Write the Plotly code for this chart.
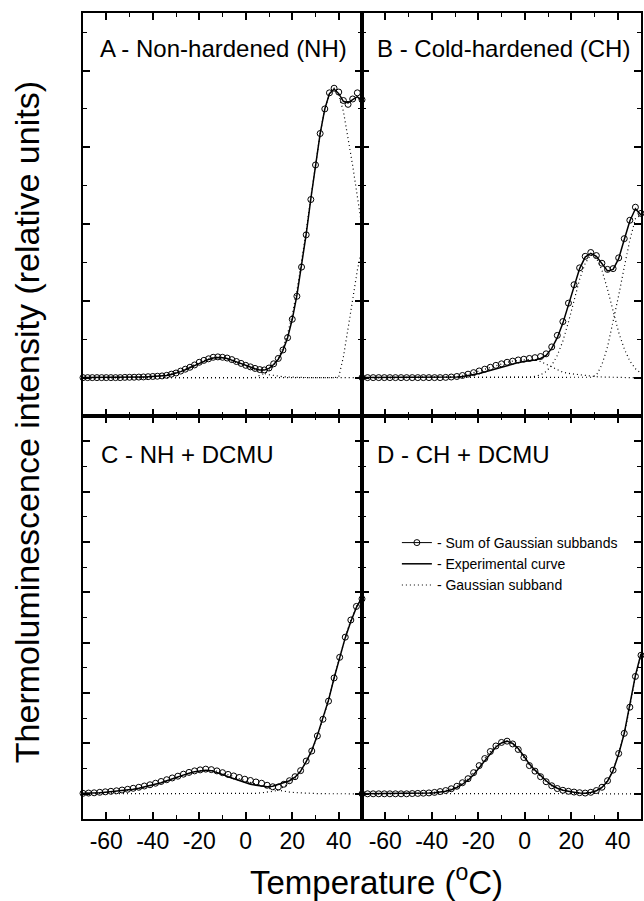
import plotly.graph_objects as go

# ---------------- data ----------------
T_A = [-70, -68, -66, -64, -62, -60, -58, -56, -54, -52, -50, -48, -46, -44, -42, -40,
       -38, -36, -34, -32, -30, -28, -26, -24, -22, -20, -18, -16, -14, -12, -10, -8,
       -6, -4, -2, 0, 2, 4, 6, 8, 10, 12, 14, 16, 18, 20, 22, 24, 26, 28, 30, 32, 34,
       36, 38, 40, 42, 44, 46, 48, 50]
T_2 = [-70.0, -67.6, -65.2, -62.8, -60.4, -58.0, -55.6, -53.2, -50.8, -48.4, -46.0,
       -43.6, -41.2, -38.8, -36.4, -34.0, -31.6, -29.2, -26.8, -24.4, -22.0, -19.6,
       -17.2, -14.8, -12.4, -10.0, -7.6, -5.2, -2.8, -0.4, 2.0, 4.4, 6.8, 9.2, 11.6,
       14.0, 16.4, 18.8, 21.2, 23.6, 26.0, 28.4, 30.8, 33.2, 35.6, 38.0, 40.4, 42.8,
       45.2, 47.6, 50.0]

# Panel A - Non-hardened
SUM_A = [0, 0, 0, 0, 0, 0, 0, 0, 0, 0.003, 0.004, 0.005, 0.007, 0.009, 0.012, 0.015,
         0.018, 0.022, 0.03, 0.045, 0.06, 0.085, 0.11, 0.135, 0.165, 0.2, 0.225, 0.245,
         0.265, 0.27, 0.265, 0.255, 0.235, 0.21, 0.185, 0.16, 0.14, 0.12, 0.105, 0.1,
         0.125, 0.18, 0.25, 0.36, 0.52, 0.76, 1.06, 1.44, 1.86, 2.32, 2.77, 3.18, 3.5,
         3.71, 3.77, 3.72, 3.61, 3.56, 3.63, 3.71, 3.62]
EXP_A = [0, 0, 0, 0, 0, 0, 0, 0, 0, 0.002, 0.003, 0.004, 0.006, 0.008, 0.01, 0.013,
         0.016, 0.02, 0.028, 0.04, 0.055, 0.078, 0.102, 0.128, 0.158, 0.19, 0.215, 0.237,
         0.255, 0.262, 0.258, 0.248, 0.228, 0.205, 0.18, 0.155, 0.135, 0.115, 0.1, 0.098,
         0.12, 0.17, 0.24, 0.355, 0.52, 0.76, 1.07, 1.45, 1.87, 2.33, 2.78, 3.18, 3.5,
         3.7, 3.76, 3.7, 3.6, 3.58, 3.62, 3.66, 3.6]
G_A1 = [0] * 13 + [0.005, 0.01, 0.015, 0.02, 0.028, 0.038, 0.052, 0.07, 0.09, 0.115,
                   0.14, 0.17, 0.195, 0.22, 0.24, 0.255, 0.26, 0.255, 0.24, 0.22, 0.195,
                   0.17, 0.145, 0.12, 0.095, 0.072, 0.053, 0.038, 0.026, 0.017, 0.011,
                   0.007, 0.004, 0.002] + [0] * 14
G_A2 = [0] * 38 + [0.03, 0.054, 0.09, 0.155, 0.25, 0.385, 0.57, 0.82, 1.13, 1.5, 1.91,
                   2.35, 2.79, 3.18, 3.5, 3.7, 3.77, 3.68, 3.47, 3.13, 2.76, 2.36, 1.96]
G_A3 = [0] * 55 + [0.01, 0.27, 0.64, 1.02, 1.4, 1.68]

# Panel B - Cold-hardened
SUM_B = [0] * 15 + [0.003, 0.008, 0.015, 0.028, 0.045, 0.065, 0.087, 0.11, 0.135, 0.16,
                    0.18, 0.2, 0.215, 0.23, 0.24, 0.25, 0.26, 0.275, 0.31, 0.40, 0.55,
                    0.73, 0.97, 1.21, 1.43, 1.58, 1.63, 1.59, 1.49, 1.41, 1.42, 1.56,
                    1.81, 2.05, 2.22, 2.14]
EXP_B = [0] * 16 + [0.003, 0.008, 0.015, 0.025, 0.04, 0.055, 0.075, 0.095, 0.115, 0.14,
                    0.16, 0.18, 0.195, 0.21, 0.22, 0.23, 0.25, 0.29, 0.38, 0.52, 0.71,
                    0.95, 1.2, 1.42, 1.57, 1.62, 1.58, 1.48, 1.39, 1.41, 1.55, 1.8, 2.04,
                    2.2, 2.12]
G_B1 = [0] * 15 + [0.003, 0.008, 0.015, 0.028, 0.045, 0.065, 0.087, 0.11, 0.135, 0.16,
                   0.18, 0.2, 0.215, 0.225, 0.232, 0.235, 0.23, 0.21, 0.175, 0.135, 0.095,
                   0.07, 0.055, 0.045, 0.035, 0.025, 0.018, 0.012, 0.008, 0.005,
                   0.003] + [0] * 5
G_B2 = [0] * 29 + [0.002, 0.006, 0.016, 0.037, 0.08, 0.16, 0.288, 0.477, 0.724, 1.0,
                   1.28, 1.49, 1.6, 1.56, 1.4, 1.15, 0.86, 0.59, 0.375, 0.216, 0.115, 0.056]
G_B3 = [0] * 41 + [0.005, 0.03, 0.17, 0.4, 0.72, 1.07, 1.44, 1.79, 2.07, 2.12]

# Panel C - NH + DCMU
SUM_C = [0.01, 0.015, 0.02, 0.03, 0.04, 0.05, 0.06, 0.075, 0.09, 0.11,
         0.13, 0.155, 0.18, 0.21, 0.245, 0.28, 0.315, 0.35, 0.39, 0.425,
         0.455, 0.475, 0.49, 0.48, 0.455, 0.42, 0.385, 0.355, 0.325, 0.29,
         0.265, 0.235, 0.21, 0.17, 0.14, 0.135, 0.19, 0.26, 0.34, 0.46,
         0.65, 0.85, 1.15, 1.48, 1.84, 2.3, 2.71, 3.11, 3.45, 3.72, 3.87]
EXP_C = [0.01, 0.01, 0.015, 0.02, 0.03, 0.04, 0.05, 0.06, 0.075, 0.09,
         0.11, 0.135, 0.16, 0.19, 0.22, 0.26, 0.3, 0.335, 0.375, 0.41,
         0.44, 0.46, 0.47, 0.46, 0.43, 0.385, 0.34, 0.3, 0.26, 0.22,
         0.19, 0.17, 0.15, 0.14, 0.15, 0.19, 0.22, 0.26, 0.33, 0.45,
         0.64, 0.86, 1.16, 1.5, 1.86, 2.3, 2.72, 3.1, 3.42, 3.7, 3.9]
G_C1 = [0.004, 0.006, 0.01, 0.015, 0.02, 0.03, 0.04, 0.05, 0.065, 0.08,
        0.1, 0.125, 0.15, 0.18, 0.215, 0.25, 0.29, 0.33, 0.37, 0.405,
        0.435, 0.46, 0.47, 0.465, 0.45, 0.42, 0.385, 0.345, 0.3, 0.26,
        0.22, 0.18, 0.145, 0.115, 0.088, 0.066, 0.048, 0.035, 0.024, 0.016,
        0.01, 0.006, 0.004, 0.002, 0, 0, 0, 0, 0, 0, 0]
G_C2 = [0] * 30 + [0.005, 0.01, 0.02, 0.03, 0.05, 0.07, 0.14, 0.22, 0.31, 0.44, 0.64,
                   0.84, 1.15, 1.48, 1.84, 2.3, 2.71, 3.11, 3.45, 3.72, 3.87]

# Panel D - CH + DCMU
SUM_D = [0] * 9 + [0.005, 0.008, 0.012, 0.018, 0.028, 0.045, 0.065, 0.1, 0.15, 0.22,
                   0.3, 0.42, 0.56, 0.7, 0.84, 0.95, 1.02, 1.045, 0.99, 0.88, 0.72, 0.56,
                   0.45, 0.34, 0.24, 0.16, 0.105, 0.07, 0.05, 0.035, 0.022, 0.015, 0.03,
                   0.065, 0.13, 0.26, 0.47, 0.8, 1.2, 1.72, 2.33, 2.75]
EXP_D = [0] * 9 + [0.004, 0.006, 0.01, 0.014, 0.022, 0.035, 0.052, 0.082, 0.125, 0.19,
                   0.27, 0.38, 0.52, 0.67, 0.81, 0.93, 1.01, 1.045, 1.0, 0.9, 0.75, 0.59,
                   0.47, 0.36, 0.26, 0.17, 0.11, 0.07, 0.045, 0.03, 0.018, 0.012, 0.025,
                   0.06, 0.125, 0.25, 0.46, 0.79, 1.2, 1.74, 2.35, 2.78]
G_D1 = [0] * 9 + [0.005, 0.008, 0.012, 0.018, 0.028, 0.045, 0.065, 0.1, 0.15, 0.22,
                  0.3, 0.42, 0.56, 0.7, 0.84, 0.95, 1.02, 1.045, 0.99, 0.88, 0.72, 0.56,
                  0.45, 0.34, 0.24, 0.16, 0.105, 0.07, 0.045, 0.03, 0.018, 0.01, 0.006,
                  0.003, 0.001, 0, 0, 0, 0, 0, 0, 0]
G_D2 = [0] * 38 + [0.002, 0.004, 0.006, 0.022, 0.06, 0.13, 0.26, 0.47, 0.8, 1.2, 1.72,
                   2.33, 2.75]

PANEL_LABELS = ["A - Non-hardened (NH)", "B - Cold-hardened (CH)",
                "C - NH + DCMU", "D - CH + DCMU"]
X_TICKS = [-60, -40, -20, 0, 20, 40]
X_TICK_LABELS = ["-60", "-40", "-20", "0", "20", "40"]
LEGEND_NAMES = ["- Sum of Gaussian subbands", "- Experimental curve", "- Gaussian subband"]

PANELS = [
    (T_A, SUM_A, EXP_A, [G_A1, G_A2, G_A3]),
    (T_2, SUM_B, EXP_B, [G_B1, G_B2, G_B3]),
    (T_2, SUM_C, EXP_C, [G_C1, G_C2]),
    (T_2, SUM_D, EXP_D, [G_D1, G_D2]),
]

# ---------------- figure ----------------
FONT = "Liberation Sans, Arial, Helvetica, sans-serif"
DOT = "1px,3px"
fig = go.Figure()

for i, (tt, s, e, gs) in enumerate(PANELS):
    n = "" if i == 0 else str(i + 1)
    xa, ya = "x" + n, "y" + n
    for g in gs:
        fig.add_trace(go.Scatter(x=tt, y=g, mode="lines", xaxis=xa, yaxis=ya,
                                 line=dict(color="black", width=1.2, dash=DOT),
                                 showlegend=False, hoverinfo="skip"))
    fig.add_trace(go.Scatter(x=tt, y=e, mode="lines", xaxis=xa, yaxis=ya,
                             line=dict(color="black", width=1.5),
                             showlegend=False))
    fig.add_trace(go.Scatter(x=tt, y=s, mode="markers", xaxis=xa, yaxis=ya,
                             marker=dict(symbol="circle-open", size=6, color="black",
                                         line=dict(width=1, color="black")),
                             cliponaxis=False, showlegend=False))

# legend entries
fig.add_trace(go.Scatter(x=[None], y=[None], mode="lines+markers", name=LEGEND_NAMES[0],
                         line=dict(color="black", width=1),
                         marker=dict(symbol="circle-open", size=6, color="black",
                                     line=dict(width=1, color="black"))))
fig.add_trace(go.Scatter(x=[None], y=[None], mode="lines", name=LEGEND_NAMES[1],
                         line=dict(color="black", width=1.5)))
fig.add_trace(go.Scatter(x=[None], y=[None], mode="lines", name=LEGEND_NAMES[2],
                         line=dict(color="black", width=1.2, dash=DOT)))

domains_x = [[0, 0.5], [0.5, 1], [0, 0.5], [0.5, 1]]
domains_y = [[0.5, 1], [0.5, 1], [0, 0.5], [0, 0.5]]
yranges = [[-0.5, 4.75], [-0.5, 4.75], [-0.5, 7.5], [-0.5, 7.5]]

layout = {}
for i in range(4):
    n = "" if i == 0 else str(i + 1)
    layout["xaxis" + n] = dict(
        domain=domains_x[i], range=[-70, 50], anchor="y" + n,
        showline=True, linecolor="black", linewidth=2, mirror="ticks",
        ticks="inside", ticklen=7, tickwidth=1.5, tickcolor="black",
        tickvals=X_TICKS, ticktext=X_TICK_LABELS,
        minor=dict(dtick=10, tick0=0, ticks="inside", ticklen=4, tickwidth=1.2,
                   tickcolor="black"),
        showticklabels=(i >= 2), showgrid=False, zeroline=False,
        tickfont=dict(family=FONT, size=23, color="black"),
    )
    layout["yaxis" + n] = dict(
        domain=domains_y[i], range=yranges[i], anchor="x" + n,
        showline=True, linecolor="black", linewidth=2, mirror="ticks",
        ticks="inside", ticklen=7, tickwidth=1.5, tickcolor="black",
        tick0=0, dtick=1,
        minor=dict(dtick=0.5, tick0=0, ticks="inside", ticklen=4, tickwidth=1.2,
                   tickcolor="black"),
        showticklabels=False, showgrid=False, zeroline=False,
    )

annotations = []
label_pos = [(98, 49), (376, 49), (99, 454), (376, 454)]
for lab, (px, py) in zip(PANEL_LABELS, label_pos):
    annotations.append(dict(text=lab, xref="paper", yref="paper",
                            x=(px - 83) / 560, y=(819 - py) / 806,
                            xanchor="left", yanchor="middle", showarrow=False,
                            font=dict(family=FONT, size=24, color="black")))
annotations.append(dict(text="Temperature (<sup>o</sup>C)", xref="paper", yref="paper",
                        x=(378 - 83) / 560, y=(819 - 880) / 806, xanchor="center",
                        yanchor="middle", showarrow=False,
                        font=dict(family=FONT, size=33, color="black")))
annotations.append(dict(text="Thermoluminescence intensity (relative units)",
                        xref="paper", yref="paper", textangle=-90,
                        x=(27 - 83) / 560, y=(819 - 422) / 806, xanchor="center",
                        yanchor="middle", showarrow=False,
                        font=dict(family=FONT, size=34, color="black")))

fig.update_layout(
    **layout,
    width=644, height=901,
    margin=dict(l=83, r=1, t=13, b=82),
    paper_bgcolor="white", plot_bgcolor="white",
    annotations=annotations,
    showlegend=True,
    legend=dict(x=(398 - 83) / 560, y=(819 - 527) / 806, xanchor="left", yanchor="top",
                bgcolor="rgba(0,0,0,0)", borderwidth=0,
                font=dict(family=FONT, size=14, color="black"),
                itemwidth=30, tracegroupgap=0),
)

fig.write_html("out.html",
               config={"displayModeBar": False},
               post_script="document.body.style.margin='0px';"
                           "document.body.style.padding='0px';")
